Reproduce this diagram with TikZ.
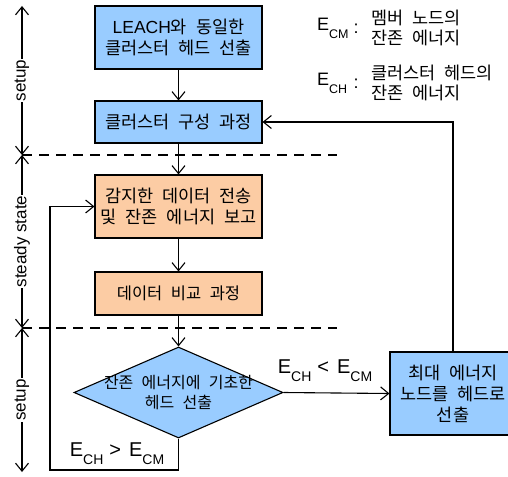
\documentclass[tikz,border=0pt]{standalone}
\usepackage{fontspec}
\setmainfont{Liberation Sans}
\newfontfamily\kr[WordSpace=2.3]{Noto Sans CJK KR}
\newfontfamily\lat{Liberation Sans}
\usetikzlibrary{shapes.geometric,arrows.meta}
\definecolor{boxblue}{RGB}{153,204,255}
\definecolor{boxorange}{RGB}{252,204,164}
\newcommand\Esub[1]{{\lat\fontsize{18}{18}\selectfont E\raisebox{-0.4em}{\fontsize{12.5}{12.5}\selectfont #1}}}
\newcommand\Ebig[1]{{\lat\fontsize{20}{20}\selectfont E\raisebox{-0.4em}{\fontsize{14}{14}\selectfont #1}}}
\newcommand\Rel[1]{\hspace{6pt}{\lat\fontsize{20}{20}\selectfont #1}\hspace{8pt}}
\tikzset{
  box/.style={draw, line width=1.1pt, minimum width=167pt, align=center, inner sep=0pt,
    font=\kr\fontsize{17.5}{21}\selectfont},
  bluebox/.style={box, fill=boxblue},
  orangebox/.style={box, fill=boxorange},
  arr/.style={line width=1.1pt, -{Straight Barb[length=8pt,width=13pt,line width=1.1pt]}},
  dbl/.style={line width=1.1pt, {Straight Barb[length=8pt,width=13pt,line width=1.1pt]}-{Straight Barb[length=8pt,width=13pt,line width=1.1pt]}},
  sep/.style={line width=1.1pt, dash pattern=on 10pt off 7pt},
  phase/.style={fill=white, rotate=90, inner sep=1pt, font=\lat\fontsize{17}{17}\selectfont},
  ktext/.style={align=left, inner sep=0pt, font=\kr\fontsize{17.5}{19.5}\selectfont},
}
\begin{document}
\begin{tikzpicture}[x=1pt,y=-1pt]
\useasboundingbox (0,0) rectangle (508,476);
% boxes
\node[bluebox, minimum height=63pt] (b1) at (178.5,37.5) {{\lat LEACH}와 동일한\\클러스터 헤드 선출};
\node[bluebox, minimum height=42pt] (b2) at (178.5,122) {클러스터 구성 과정};
\node[orangebox, minimum height=63pt] (b3) at (178.5,206.5) {감지한 데이터 전송\\및 잔존 에너지 보고};
\node[orangebox, minimum height=43pt, font=\kr\fontsize{16.5}{20}\selectfont] (b4) at (178.5,293.5) {데이터 비교 과정};
\node[diamond, draw, line width=1.1pt, fill=boxblue, minimum width=209pt, minimum height=91pt, inner sep=0pt] (d) at (178.5,392.5) {};
\node[align=center, inner sep=0pt, font=\kr\fontsize{16}{20}\selectfont] (dt) at (d) {잔존 에너지에 기초한\\헤드 선출};
\node[bluebox, minimum width=126pt, minimum height=83pt, font=\kr\fontsize{17.5}{21}\selectfont] (b5) at (453,393.5) {최대 에너지\\노드를 헤드로\\선출};
% separators
\coordinate (t0) at (22,6);
\coordinate (t1) at (22,155);
\coordinate (t2) at (22,328);
\coordinate (t3) at (22,472);
\coordinate (s1) at (337,155);
\coordinate (s2) at (337,328);
\draw[sep] (t1) -- (s1);
\draw[sep] (t2) -- (s2);
% connectors
\draw[arr] (b1) -- (b2);
\draw[arr] (b2) -- (b3);
\draw[arr] (b3) -- (b4);
\draw[arr] (b4) -- (d);
\draw[arr] (d.east) -- (b5.west);
\node (lt) at (325,371) {\Ebig{CH}\Rel{<}\Ebig{CM}};
\draw[arr] (b5.north) |- (b2.east);
\coordinate (lb) at (50,470);
\draw[arr] (d.south) |- (lb) |- (b3.west);
\node (lg) at (117,454) {\Ebig{CH}\Rel{>}\Ebig{CM}};
% phase arrows
\draw[dbl] (t1) -- (t0) node[phase, pos=0.5] (p1) {setup};
\draw[dbl] (t1) -- (t2) node[phase, pos=0.5] (p2) {steady state};
\draw[dbl] (t2) -- (t3) node[phase, pos=0.5] (p3) {setup};
% legend
\node[anchor=base west, inner sep=0pt] (e1) at (317,31) {\Esub{CM}};
\node[inner sep=0pt, font=\lat\fontsize{18}{18}\selectfont] (c1) at (356,29) {:};
\node[ktext, anchor=west] (k1) at (371,28) {멤버 노드의\\잔존 에너지};
\node[anchor=base west, inner sep=0pt] (e2) at (317,86) {\Esub{CH}};
\node[inner sep=0pt, font=\lat\fontsize{18}{18}\selectfont] (c2) at (356,84) {:};
\node[ktext, anchor=west] (k2) at (371,83) {클러스터 헤드의\\잔존 에너지};
\end{tikzpicture}
\end{document}
